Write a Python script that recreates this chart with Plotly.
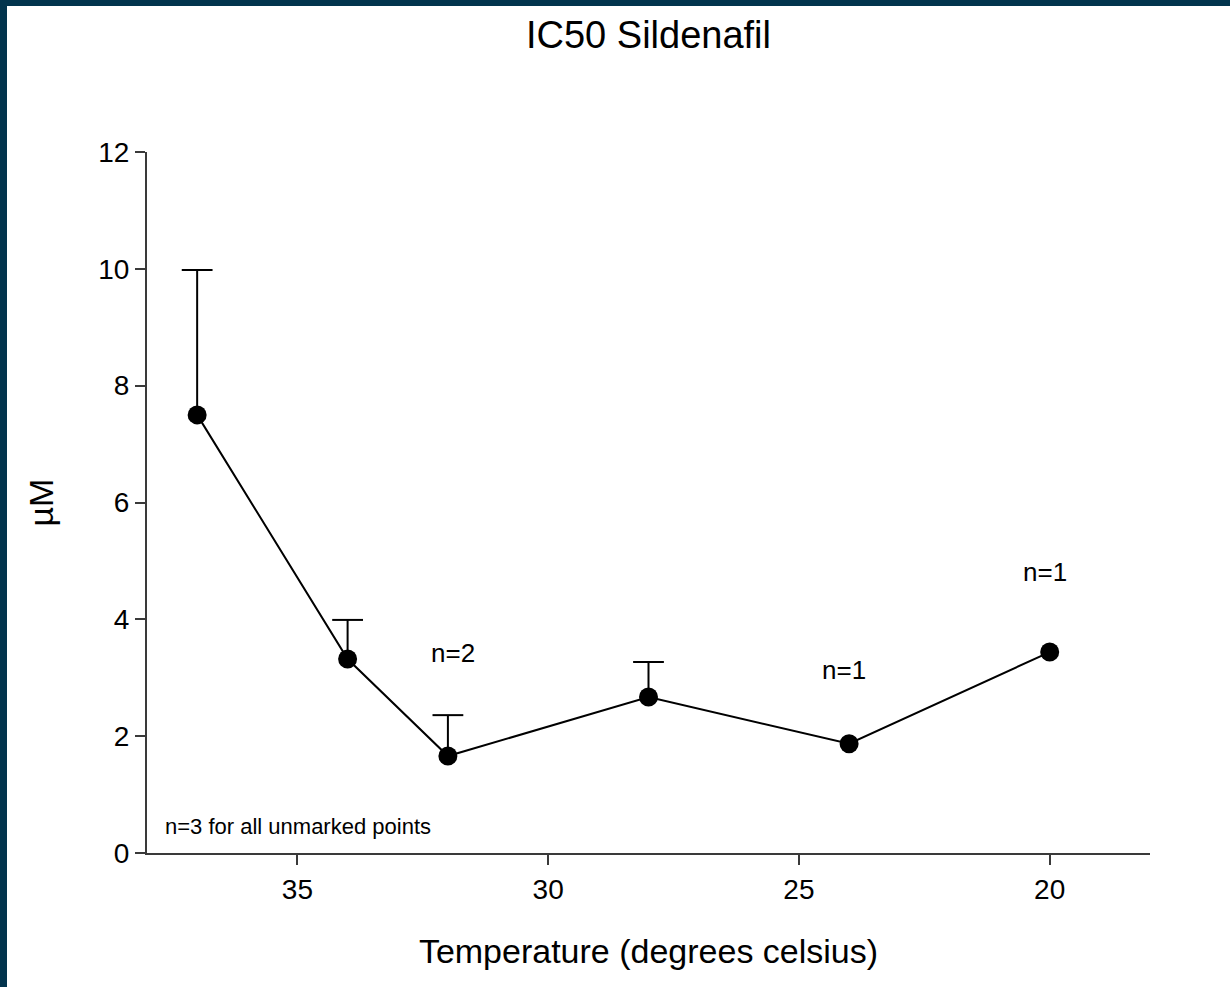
import plotly.graph_objects as go

# Data
temperature = [37, 34, 32, 28, 24, 20]
ic50_um = [7.50, 3.32, 1.66, 2.67, 1.87, 3.44]
err_plus = [2.48, 0.67, 0.70, 0.60, 0.0, 0.0]

n_labels = ["n=2", "n=1", "n=1"]
n_label_x = [31.9, 24.1, 20.1]
n_label_y = [3.42, 3.13, 4.81]

x_ticks = [35, 30, 25, 20]
y_ticks = [0, 2, 4, 6, 8, 10, 12]

FONT = "Arial, Liberation Sans, sans-serif"
AX = "#3a3a3a"
FRAME = "#02344d"

W, H = 1223, 981

# upward-only error bars (stems + caps), drawn beneath the markers
stem_x, stem_y, cap_x, cap_y = [], [], [], []
for t, v, e in zip(temperature, ic50_um, err_plus):
    if e > 0:
        stem_x += [t, t, None]
        stem_y += [v, v + e, None]
        cap_x.append(t)
        cap_y.append(v + e)

fig = go.Figure()
fig.add_trace(go.Scatter(
    x=stem_x, y=stem_y, mode="lines",
    line=dict(color="black", width=2),
    showlegend=False, hoverinfo="skip", cliponaxis=False,
))
fig.add_trace(go.Scatter(
    x=cap_x, y=cap_y, mode="markers",
    marker=dict(symbol="line-ew-open", size=22, color="black",
                line=dict(color="black", width=2)),
    showlegend=False, hoverinfo="skip", cliponaxis=False,
))
fig.add_trace(go.Scatter(
    x=temperature, y=ic50_um, mode="lines+markers",
    line=dict(color="black", width=2),
    marker=dict(color="black", size=19),
    showlegend=False, cliponaxis=False,
))

for t, xv, yv in zip(n_labels, n_label_x, n_label_y):
    fig.add_annotation(x=xv, y=yv, text=t, showarrow=False,
                       font=dict(size=26, color="black", family=FONT))

fig.add_annotation(x=37.68, y=0.46, text="n=3 for all unmarked points",
                   showarrow=False, xanchor="left",
                   font=dict(size=22, color="black", family=FONT))

fig.update_layout(
    width=W, height=H,
    paper_bgcolor="white", plot_bgcolor="white",
    margin=dict(l=140, r=80, t=146, b=134),
    font=dict(family=FONT, color="black"),
    title=dict(text="IC50 Sildenafil", x=0.5, xref="paper",
               y=1 - 29 / H, yref="container", yanchor="middle",
               font=dict(size=38, family=FONT, color="black")),
    xaxis=dict(range=[38, 18], tickvals=x_ticks, showgrid=False,
               zeroline=False, showline=True, linecolor=AX, linewidth=2,
               ticks="outside", ticklen=10, tickwidth=2, tickcolor=AX,
               tickfont=dict(size=28, family=FONT, color="black"),
               title=dict(text="Temperature (degrees celsius)",
                          font=dict(size=34, family=FONT, color="black"),
                          standoff=36)),
    yaxis=dict(range=[0, 12], tickvals=y_ticks, showgrid=False,
               zeroline=False, showline=True, linecolor=AX, linewidth=2,
               ticks="outside", ticklen=10, tickwidth=2, tickcolor=AX,
               tickfont=dict(size=28, family=FONT, color="black"),
               title=dict(text="µM",
                          font=dict(size=34, family=FONT, color="black"),
                          standoff=34)),
)

fig.write_html(
    "out.html",
    post_script=(
        "document.body.style.background='" + FRAME + "';"
        "document.body.style.margin='6px 0 0 7px';"
        "document.body.style.overflow='hidden';"
    ),
)
